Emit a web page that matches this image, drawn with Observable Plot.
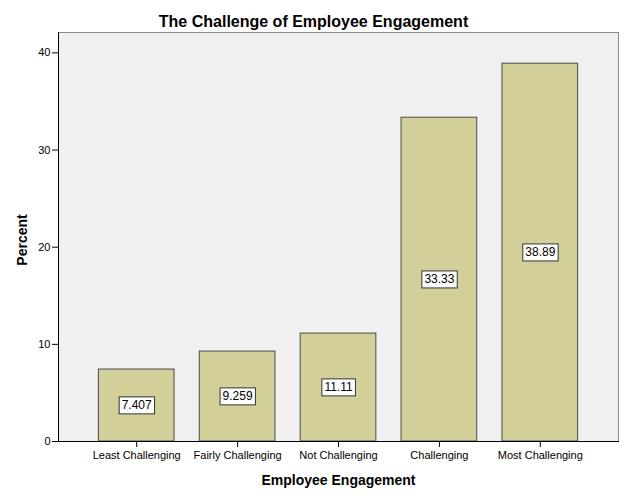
<!DOCTYPE html>
<html>
<head>
<meta charset="utf-8">
<script src="https://cdn.jsdelivr.net/npm/d3@7"></script>
<script src="https://cdn.jsdelivr.net/npm/@observablehq/plot@0.6"></script>
<style>
  body { margin: 0; background: #fff; }
  svg { font-family: "Liberation Sans", Arial, sans-serif; }
</style>
</head>
<body>
<div id="chart"></div>
<script>
const categories = ["Least Challenging", "Fairly Challenging", "Not Challenging", "Challenging", "Most Challenging"];
const percents = [7.407, 9.259, 11.11, 33.33, 38.89];
const labels = ["7.407", "9.259", "11.11", "33.33", "38.89"];
const yTicks = [0, 10, 20, 30, 40];
const title = "The Challenge of Employee Engagement";
const xTitle = "Employee Engagement";
const yTitle = "Percent";

const data = categories.map((c, i) => ({category: c, percent: percents[i], label: labels[i]}));

const chart = Plot.plot({
  width: 626,
  height: 501,
  marginLeft: 58,
  marginRight: 8,
  marginTop: 32,
  marginBottom: 60,
  style: {fontFamily: "'Liberation Sans', Arial, sans-serif", fontSize: "11px", color: "#000", background: "#fff"},
  x: {domain: categories, paddingInner: 0.25, paddingOuter: 0.4, round: false, label: null},
  y: {domain: [0, 42.1], label: null},
  marks: [
    Plot.frame({fill: "#f0f0f0", stroke: "#888"}),
    Plot.barY(data, {x: "category", y: "percent", fill: "#d3cf98", stroke: "#4a4a4a", strokeWidth: 1}),
    Plot.frame({anchor: "left", stroke: "#000"}),
    Plot.frame({anchor: "bottom", stroke: "#000"}),
    Plot.axisY({ticks: yTicks, tickSize: 6, tickPadding: 2, label: null, fontSize: 11}),
    Plot.axisX({tickSize: 6, tickPadding: 4, label: null, fontSize: 11}),
    Plot.text(data, {x: "category", y: d => d.percent / 2, text: "label", fontSize: 12, fill: "#000", className: "vlabel"}),
    Plot.text([title], {frameAnchor: "top", dx: -25, dy: -17, text: d => d, fontSize: 16, fontWeight: "bold", fill: "#000"}),
    Plot.text([xTitle], {frameAnchor: "bottom", dy: 43, text: d => d, fontSize: 14, fontWeight: "bold", fill: "#000"}),
    Plot.text([yTitle], {frameAnchor: "left", textAnchor: "middle", dx: -36, dy: 3, rotate: -90, text: d => d, fontSize: 14, fontWeight: "bold", fill: "#000"})
  ]
});

document.getElementById("chart").appendChild(chart);

// draw white boxes behind value labels
const g = chart.querySelector("g.vlabel") || chart.querySelector(".vlabel");
if (g) {
  g.querySelectorAll("text").forEach(t => {
    const b = t.getBBox();
    const ns = "http://www.w3.org/2000/svg";
    const r = document.createElementNS(ns, "rect");
    r.setAttribute("x", b.x - 2.5);
    r.setAttribute("y", b.y - 1.5);
    r.setAttribute("width", b.width + 5);
    r.setAttribute("height", b.height + 3);
    r.setAttribute("fill", "#fff");
    r.setAttribute("stroke", "#333");
    r.setAttribute("stroke-width", 1);
    if (t.getAttribute("transform")) r.setAttribute("transform", t.getAttribute("transform"));
    t.parentNode.insertBefore(r, t);
  });
}
</script>
</body>
</html>
